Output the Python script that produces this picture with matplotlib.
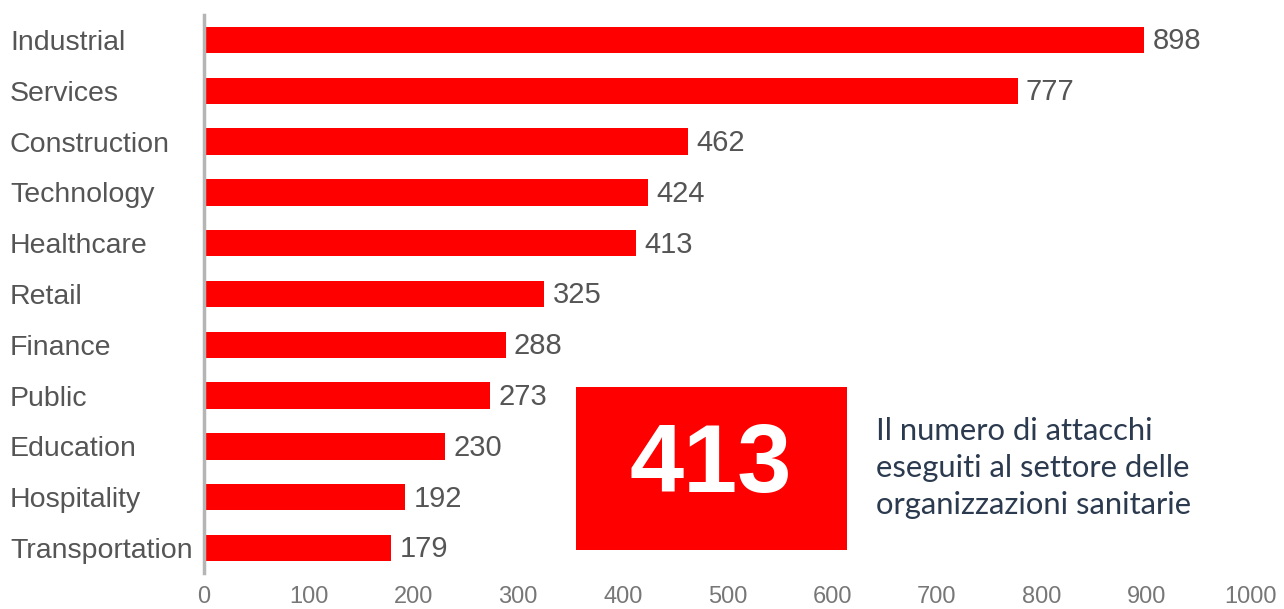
import matplotlib
matplotlib.use("Agg")
import matplotlib.pyplot as plt
from matplotlib.patches import Rectangle

categories = ["Industrial", "Services", "Construction", "Technology", "Healthcare",
              "Retail", "Finance", "Public", "Education", "Hospitality", "Transportation"]
values = [898, 777, 462, 424, 413, 325, 288, 273, 230, 192, 179]
xticks = [0, 100, 200, 300, 400, 500, 600, 700, 800, 900, 1000]
highlight_value = "413"
highlight_text = "Il numero di attacchi\neseguiti al settore delle\norganizzazioni sanitarie"

W, H = 1284, 609
fig = plt.figure(figsize=(W / 100, H / 100), dpi=100)
ax = fig.add_axes([204 / W, 1 - 573.4 / H, (1251 - 204) / W, (573.4 - 14.6) / H])

y = list(range(len(categories)))
ax.barh(y, values, height=0.52, color="#ff0000", zorder=2)
ax.set_ylim(len(categories) - 0.5, -0.5)
ax.set_xlim(0, 1000)

for yi, v in zip(y, values):
    ax.annotate(str(v), (v, yi), xytext=(6, -1), textcoords="offset points",
                va="center", ha="left", fontsize=21, color="#555555",
                family="Liberation Sans")

ax.set_yticks(y)
ax.set_yticklabels(categories, ha="left", fontsize=20.5, color="#555555",
                   family="Liberation Sans")
ax.tick_params(axis="y", length=0, pad=(204 - 10) * 72 / 100)
ax.set_xticks(xticks)
ax.set_xticklabels([str(t) for t in xticks], fontsize=17, color="#777777",
                   family="Liberation Sans")
ax.tick_params(axis="x", length=0, pad=9)

for s in ["top", "right", "bottom"]:
    ax.spines[s].set_visible(False)
ax.spines["left"].set_color("#b5b5b5")
ax.spines["left"].set_linewidth(2.5)
ax.spines["left"].set_zorder(3)

# Highlight box
fig.patches.append(Rectangle((576 / W, 1 - 550 / H), (847 - 576) / W, (550 - 387) / H,
                             transform=fig.transFigure, facecolor="#ff0000",
                             edgecolor="none", zorder=5))
fig.text(711 / W, 1 - 467 / H, highlight_value, ha="center", va="center",
         fontsize=70, fontweight="bold", color="white", family="Liberation Sans",
         zorder=6)
fig.text(876 / W, 1 - 468 / H, highlight_text, ha="left", va="center",
         fontsize=22.3, color="#2b3a4e", family="Lato", linespacing=1.38, zorder=6)

fig.savefig("out.png", dpi=100)
